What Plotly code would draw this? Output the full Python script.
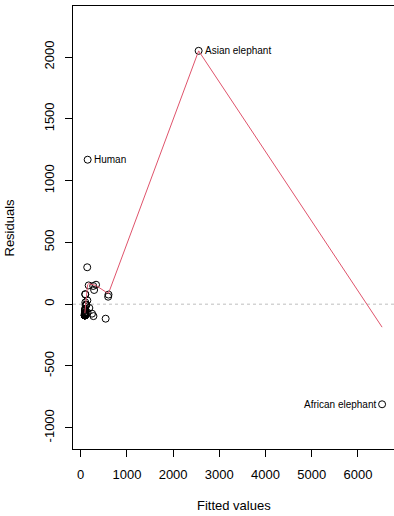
import plotly.graph_objects as go

# Residuals vs fitted for lm(brain ~ body) on the mammals data
animals = [
    "Arctic fox", "Owl monkey", "Mountain beaver", "Cow", "Grey wolf", "Goat",
    "Roe deer", "Guinea pig", "Verbet", "Chinchilla", "Ground squirrel",
    "Arctic ground squirrel", "African giant pouched rat", "Lesser short-tailed shrew",
    "Star-nosed mole", "Nine-banded armadillo", "Tree hyrax", "N.A. opossum",
    "Asian elephant", "Big brown bat", "Donkey", "Horse", "European hedgehog",
    "Patas monkey", "Cat", "Galago", "Genet", "Giraffe", "Gorilla", "Grey seal",
    "Rock hyrax-a", "Human", "African elephant", "Water opossum", "Rhesus monkey",
    "Kangaroo", "Yellow-bellied marmot", "Golden hamster", "Mouse",
    "Little brown bat", "Slow loris", "Okapi", "Rabbit", "Sheep", "Jaguar",
    "Chimpanzee", "Baboon", "Desert hedgehog", "Giant armadillo", "Rock hyrax-b",
    "Raccoon", "Rat", "E. American mole", "Mole rat", "Musk shrew", "Pig",
    "Echidna", "Brazilian tapir", "Tenrec", "Phalanger", "Tree shrew", "Red fox",
]

fitted = [
    94.28, 91.47, 92.31, 540.43, 126.12, 117.74, 105.34, 92.01, 95.05, 91.42,
    91.10, 91.89, 91.97, 91.01, 91.06, 94.39, 92.94, 92.65, 2552.69, 91.03,
    271.84, 594.55, 91.76, 100.67, 94.19, 91.20, 92.37, 602.29, 291.07, 173.16,
    91.73, 150.93, 6522.09, 94.39, 97.58, 124.83, 94.92, 91.12, 91.03, 91.01,
    92.36, 332.63, 93.42, 144.65, 187.65, 141.42, 101.20, 91.54, 148.99, 94.48,
    95.15, 91.28, 91.08, 91.12, 91.05, 276.57, 93.90, 245.64, 91.87, 92.57,
    91.11, 95.10,
]

residuals = [
    -49.78, -75.97, -84.21, -117.43, -6.62, -2.74, -7.14, -86.51, -37.05, -85.02,
    -87.10, -86.19, -85.37, -90.87, -90.06, -83.59, -80.64, -86.35, 2050.31, -90.73,
    147.16, 60.45, -88.26, 14.33, -68.59, -86.20, -74.87, 77.71, 114.93, 151.84,
    -79.43, 1169.07, -810.09, -90.49, 81.42, -68.83, -77.92, -90.12, -90.63, -90.76,
    -79.86, 157.37, -81.32, 30.35, -30.65, 298.58, 78.30, -89.14, -67.99, -73.48,
    -55.95, -89.38, -89.88, -88.12, -90.72, -96.57, -68.90, -76.64, -89.27, -81.17,
    -88.61, -44.70,
]

# Lowess smooth of the residuals
smooth_x = [91.0, 92.0, 93.5, 95.1, 97.6, 101.2, 105.3, 117.7, 124.8, 126.1,
            141.4, 144.6, 149.0, 150.9, 173.2, 187.7, 245.6, 271.8, 276.6,
            291.1, 332.6, 540.4, 594.6, 602.3, 2552.7, 6522.1]
smooth_y = [-73, -65, -55, -45, -32, -15, 0, 40, 62, 68,
            125, 135, 150, 158, 166, 166, 160, 158, 157,
            155, 150, 100, 90, 88, 2050, -186]

labelled = ["Asian elephant", "Human", "African elephant"]
label_side = ["right", "right", "left"]

x_ticks = [0, 1000, 2000, 3000, 4000, 5000, 6000]
y_ticks = [-1000, -500, 0, 500, 1000, 1500, 2000]

FONT = "Liberation Sans, Arial, Helvetica, sans-serif"

fig = go.Figure()

fig.add_trace(go.Scatter(
    x=fitted, y=residuals, mode="markers",
    marker=dict(symbol="circle-open", size=7, color="black", line=dict(width=1)),
    hoverinfo="skip", showlegend=False,
))

fig.add_trace(go.Scatter(
    x=smooth_x, y=smooth_y, mode="lines",
    line=dict(color="#DF536B", width=1),
    hoverinfo="skip", showlegend=False,
))

# zero reference line
fig.add_shape(type="line", xref="paper", x0=0, x1=1, yref="y", y0=0, y1=0,
              line=dict(color="#BEBEBE", width=1, dash="dot"), layer="below")

annotations = []
for name, side in zip(labelled, label_side):
    i = animals.index(name)
    annotations.append(dict(
        x=fitted[i], y=residuals[i], xref="x", yref="y", text=name,
        showarrow=False, font=dict(family=FONT, size=10, color="black"),
        xanchor="left" if side == "right" else "right", yanchor="middle",
        xshift=4 if side == "right" else -4,
    ))

annotations.append(dict(
    x=0.5, y=0, xref="paper", yref="paper", text="Fitted values",
    showarrow=False, font=dict(family=FONT, size=13, color="black"),
    xanchor="center", yanchor="middle", yshift=-56,
))
annotations.append(dict(
    x=0, y=0.5, xref="paper", yref="paper", text="Residuals",
    showarrow=False, font=dict(family=FONT, size=13, color="black"),
    xanchor="center", yanchor="middle", xshift=-64, textangle=-90,
))

fig.update_layout(
    width=394, height=516,
    margin=dict(l=73, r=0, t=6, b=67),
    paper_bgcolor="white", plot_bgcolor="white",
    font=dict(family=FONT, size=13, color="black"),
    annotations=annotations,
    xaxis=dict(
        range=[-166, 6780], tickvals=x_ticks, ticktext=[str(v) for v in x_ticks],
        showgrid=False, zeroline=False, showline=True, mirror=True,
        linecolor="black", linewidth=1, ticks="outside", ticklen=7,
        tickcolor="black", tickwidth=1, ticklabelstandoff=6,
        tickfont=dict(family=FONT, size=13, color="black"),
    ),
    yaxis=dict(
        range=[-1172, 2413], tickvals=y_ticks, ticktext=[str(v) for v in y_ticks],
        showgrid=False, zeroline=False, showline=True, mirror=True,
        linecolor="black", linewidth=1, ticks="outside", ticklen=7,
        tickcolor="black", tickwidth=1, tickangle=-90, ticklabelstandoff=6,
        tickfont=dict(family=FONT, size=13, color="black"),
    ),
)

fig.write_html("out.html")
